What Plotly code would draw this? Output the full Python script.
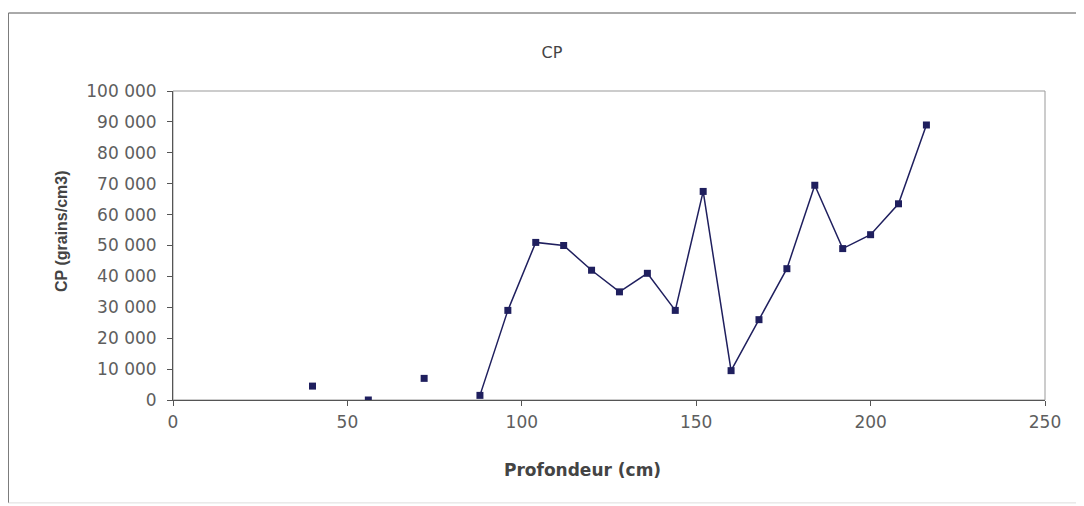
import plotly.graph_objects as go

# profondeur (cm) et CP (grains/cm3); None = pas de mesure
depth = [40, 48, 56, 64, 72, 80, 88, 96, 104, 112, 120, 128, 136, 144,
         152, 160, 168, 176, 184, 192, 200, 208, 216]
cp = [4500, None, 0, None, 7000, None, 1500, 29000, 51000, 50000, 42000,
      35000, 41000, 29000, 67500, 9500, 26000, 42500, 69500, 49000, 53500,
      63500, 89000]

y_ticks = list(range(0, 100001, 10000))
x_ticks = [0, 50, 100, 150, 200, 250]

navy = "#1f1f5e"
fig = go.Figure()
fig.add_trace(go.Scatter(
    x=depth, y=cp, mode="lines+markers", connectgaps=False,
    line=dict(color=navy, width=1.5),
    marker=dict(symbol="square", size=7, color=navy),
    showlegend=False,
))

tick_font = dict(family="DejaVu Sans", size=17, color="#5e5e5e")
title_font_x = dict(family="DejaVu Sans", size=17, color="#444444")
title_font_y = dict(family="Liberation Sans", size=16, color="#444444")

fig.update_layout(
    width=1076, height=498,
    margin=dict(l=165, r=39, t=83, b=106),
    paper_bgcolor="white", plot_bgcolor="white",
    separators=", ",
    title=dict(text="CP", x=0.5055, xanchor="center", y=0.9116, yanchor="middle",
               font=dict(family="DejaVu Sans", size=16, color="#444444")),
    xaxis=dict(range=[0, 250], tickvals=x_ticks, showgrid=False, zeroline=False,
               showline=True, linecolor="#555555", linewidth=1,
               ticks="outside", ticklen=5, tickcolor="#555555",
               ticklabelstandoff=2, tickfont=tick_font),
    yaxis=dict(range=[0, 100000], tickvals=y_ticks, tickformat=",d",
               showgrid=False, zeroline=False,
               showline=True, linecolor="#555555", linewidth=1,
               ticks="outside", ticklen=5, tickcolor="#555555",
               ticklabelstandoff=7, tickfont=tick_font),
    annotations=[
        dict(text="<b>Profondeur (cm)</b>", xref="paper", yref="paper",
             x=0.470, y=-0.2265, xanchor="center", yanchor="middle",
             showarrow=False, font=title_font_x),
        dict(text="<b>CP (grains/cm3)</b>", xref="paper", yref="paper",
             x=-0.1273, y=0.547, xanchor="center", yanchor="middle",
             textangle=-90, showarrow=False, font=title_font_y),
    ],
    shapes=[
        # cadre de la zone de tracé
        dict(type="rect", xref="paper", yref="paper", x0=0, x1=1, y0=0, y1=1,
             line=dict(color="#999999", width=1), layer="below"),
        # cadre extérieur du graphique
        dict(type="line", xref="paper", yref="paper", x0=-0.1887, x1=1.1,
             y0=1.2524, y1=1.2524, line=dict(color="#555555", width=1)),
        dict(type="line", xref="paper", yref="paper", x0=-0.1887, x1=-0.1887,
             y0=1.2524, y1=-0.333, line=dict(color="#777777", width=1)),
        dict(type="line", xref="paper", yref="paper", x0=-0.1887, x1=1.1,
             y0=-0.333, y1=-0.333, line=dict(color="#dddddd", width=1)),
    ],
)

fig.write_html("out.html")
